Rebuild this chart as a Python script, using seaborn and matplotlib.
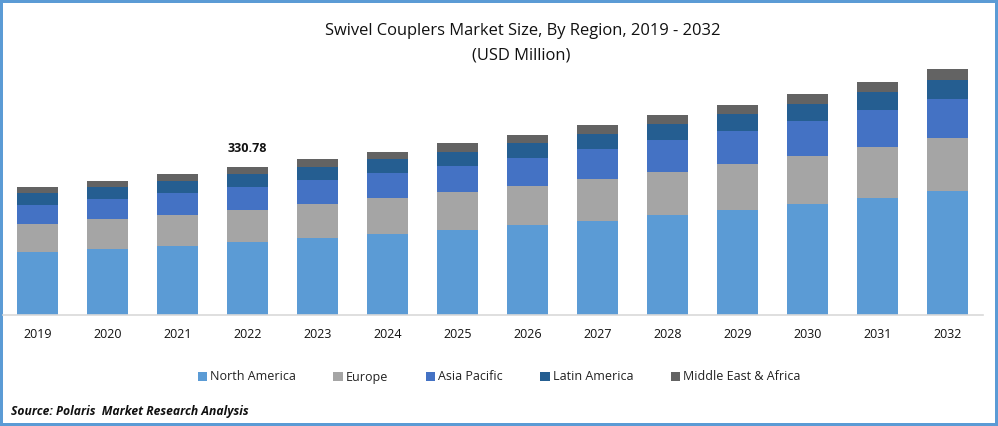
import matplotlib
matplotlib.use('Agg')
import matplotlib.pyplot as plt
import seaborn as sns
import numpy as np

years = ['2019', '2020', '2021', '2022', '2023', '2024', '2025', '2026', '2027', '2028', '2029', '2030', '2031', '2032']
north_america = [140.8, 147.5, 154.2, 163.2, 172.1, 181.0, 190.0, 201.2, 210.1, 223.5, 234.7, 248.1, 261.5, 277.1]
europe = [62.6, 67.1, 69.3, 71.5, 76.0, 80.5, 84.9, 87.2, 93.9, 96.1, 102.8, 107.3, 114.0, 118.5]
asia_pacific = [42.5, 44.7, 49.2, 51.4, 53.6, 55.9, 58.1, 62.6, 67.1, 71.5, 73.8, 78.2, 82.7, 87.2]
latin_america = [26.8, 26.8, 26.8, 29.1, 29.1, 31.3, 31.3, 33.5, 33.5, 35.8, 38.0, 38.0, 40.2, 42.5]
middle_east = [13.4, 13.4, 15.6, 15.6, 17.9, 15.6, 20.1, 17.9, 20.1, 20.1, 20.1, 22.4, 22.4, 24.6]

sns.set_style('white')
plt.rcParams['font.family'] = ['Open Sans', 'DejaVu Sans']

W, H = 998, 426
fig = plt.figure(figsize=(W / 100, H / 100), dpi=100, linewidth=2.9, edgecolor='#5B9BD5', facecolor='white')
# axes: baseline at y=315, categories 70px apart, first centre at x=37.5
ax = fig.add_axes([2.5 / W, (H - 315) / H, 980 / W, 275 / H])
ax.patch.set_visible(False)

series = [
    ('North America', north_america, '#5B9BD5'),
    ('Europe', europe, '#A5A5A5'),
    ('Asia Pacific', asia_pacific, '#4472C4'),
    ('Latin America', latin_america, '#255E91'),
    ('Middle East & Africa', middle_east, '#636363'),
]

bottom = np.zeros(len(years))
for name, values, color in series:
    sns.barplot(x=years, y=values, bottom=bottom, color=color, label=name,
                width=0.586, ax=ax, legend=False, saturation=1, linewidth=0)
    bottom = bottom + np.array(values)

ax.set_xlim(-0.5, 13.5)
ax.set_ylim(0, 275 * 2.235)
for side in ['top', 'left', 'right']:
    ax.spines[side].set_visible(False)
ax.spines['bottom'].set_color('#D9D9D9')
ax.spines['bottom'].set_linewidth(1.2)
ax.set_yticks([])
ax.tick_params(axis='x', length=0, pad=9, labelsize=9, labelcolor='#111111')

# only 2022 carries a total label
ax.text(2.99, bottom[3] + 41, '330.78', ha='center', va='center', fontsize=9, fontweight='bold', color='#111111')

fig.text(522.5 / W, 1 - 31 / H, 'Swivel Couplers Market Size, By Region, 2019 - 2032', ha='center', va='center', fontsize=11.9, color='#111111')
fig.text(521 / W, 1 - 55 / H, '(USD Million)', ha='center', va='center', fontsize=11.9, color='#111111')

handles, labels = ax.get_legend_handles_labels()
fig.legend(handles, labels, loc='center', bbox_to_anchor=(499 / W, 1 - 377 / H), ncol=5, frameon=False,
           fontsize=9, handlelength=0.75, handleheight=0.75, handletextpad=0.23, columnspacing=3.02,
           labelcolor='#222222')

fig.text(11 / W, 1 - 411 / H, 'Source: Polaris  Market Research Analysis', ha='left', va='center',
         fontsize=8.7, fontweight='bold', fontstyle='italic', color='#111111')

fig.savefig('out.png', dpi=100, edgecolor=fig.get_edgecolor())
plt.close()
